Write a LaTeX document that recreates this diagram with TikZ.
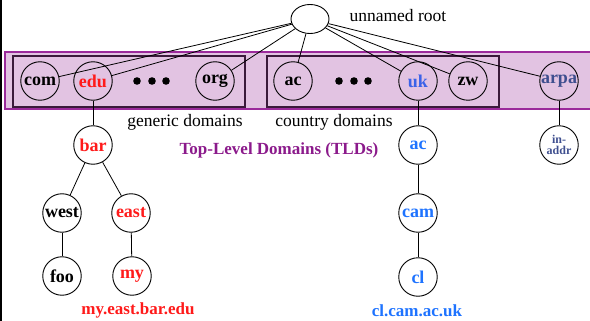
\documentclass[tikz,border=0pt]{standalone}
\usepackage{fontspec}
\setmainfont{Liberation Serif}
\usetikzlibrary{shapes.geometric}
\definecolor{tldfill}{HTML}{E2C3E2}
\definecolor{tldedge}{HTML}{9B2A9B}
\definecolor{tldtext}{HTML}{8B1A8B}
\definecolor{boxedge}{HTML}{3A1A3A}
\definecolor{redlbl}{HTML}{FF1A1A}
\definecolor{bluelbl}{HTML}{1E73FF}
\definecolor{ukblue}{HTML}{3A62E8}
\definecolor{arpablue}{HTML}{3F4F8F}
\begin{document}
\begin{tikzpicture}[x=1pt,y=-1pt,
  dom/.style={circle, draw, line width=0.9pt, minimum size=38.5pt, inner sep=0pt,
              font=\bfseries\fontsize{18}{20}\selectfont},
  smalldom/.style={dom, font=\bfseries\fontsize{12}{11}\selectfont, align=center},
  link/.style={line width=0.8pt},
  grp/.style={draw=boxedge, line width=1.1pt},
  captxt/.style={font=\fontsize{17.5}{19}\selectfont},
  fqdn/.style={font=\bfseries\fontsize{17}{19}\selectfont}]
\useasboundingbox (0,0) rectangle (590,321);

% page edge on the left
\draw[line width=1.5pt] (0.75,0) -- (0.75,321);

% top-level band
\fill[tldfill] (5,52) rectangle (592,109);
\draw[tldedge, line width=1.2pt] (592,52) -- (5,52) -- (5,109) -- (592,109);
\draw[grp] (13,56) rectangle (245,107);
\draw[grp] (267,56) rectangle (499,107);

% root
\node[ellipse, draw, line width=0.9pt, minimum width=38pt, minimum height=29pt, inner sep=0pt] (root) at (310,19) {};
\node[captxt, anchor=west] (rootlbl) at (346,16) {unnamed root};

% top-level domains
\node[dom] (com) at (40,81) {com};
\node[dom, text=redlbl] (edu) at (93,81) {edu};
\node[dom] (org) at (215,81) {org};
\node[dom] (ac) at (293,81) {ac};
\node[dom, text=ukblue] (uk) at (418,81) {uk};
\node[dom] (zw) at (468,81) {zw};
\node[dom, text=arpablue] (arpa) at (559,81) {arpa};

\foreach \x in {137,152,166,339,354,368} \fill (\x,81) circle (3.8pt);

\node[captxt] (genlbl) at (185,122) {generic domains};
\node[captxt] (ctrylbl) at (334,122) {country domains};
\node[fqdn, text=tldtext] (tldlbl) at (279,150) {Top-Level Domains (TLDs)};

% lower levels
\node[dom, text=redlbl] (bar) at (93,145) {bar};
\node[dom] (west) at (62,213) {west};
\node[dom, text=redlbl] (east) at (131,213) {east};
\node[dom] (foo) at (62,276) {foo};
\node[dom, text=redlbl] (my) at (132,276) {my};
\node[dom, text=bluelbl] (uac) at (418,145) {ac};
\node[dom, text=bluelbl] (cam) at (418,213) {cam};
\node[dom, text=bluelbl] (cl) at (418,277) {cl};
\node[smalldom, text=arpablue] (inaddr) at (559,145) {in-\\addr};

\node[fqdn, text=redlbl] (mypath) at (138,310) {my.east.bar.edu};
\node[fqdn, text=bluelbl] (clpath) at (417,311) {cl.cam.ac.uk};

% links
\foreach \c in {com,edu,org,ac,uk,zw,arpa} \draw[link] (root) -- (\c);
\draw[link] (edu) -- (bar);
\draw[link] (bar) -- (west);
\draw[link] (bar) -- (east);
\draw[link] (west) -- (foo);
\draw[link] (east) -- (my);
\draw[link] (uk) -- (uac);
\draw[link] (uac) -- (cam);
\draw[link] (cam) -- (cl);
\draw[link] (arpa) -- (inaddr);
\end{tikzpicture}
\end{document}
